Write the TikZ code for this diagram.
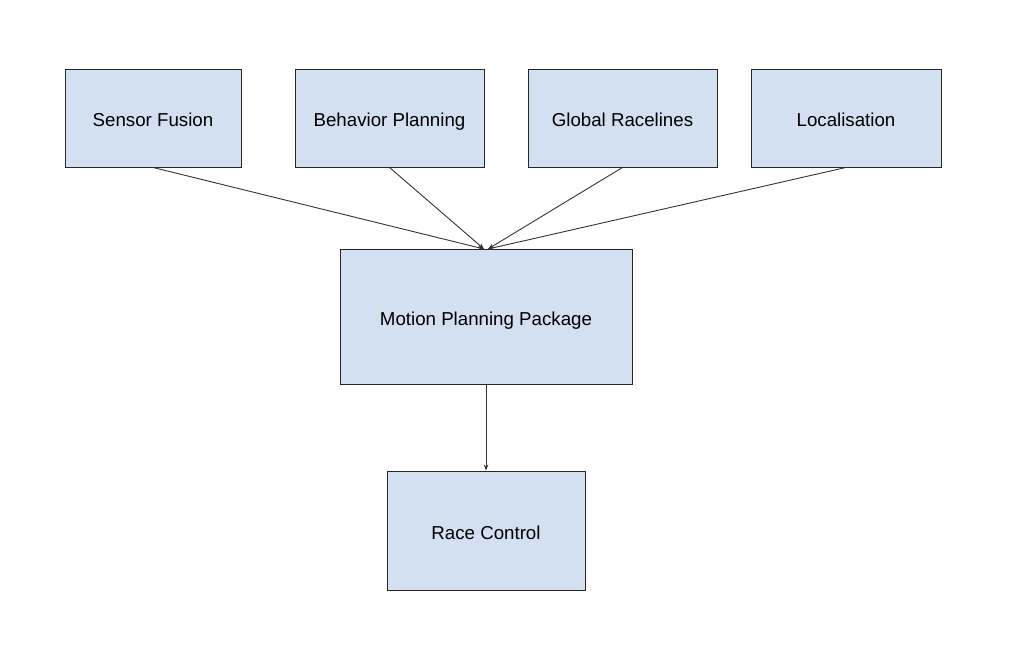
\documentclass[tikz,border=0pt]{standalone}
\usepackage{fontspec}
\setmainfont{Liberation Sans}
\usetikzlibrary{arrows.meta}
\definecolor{boxfill}{HTML}{D3E0F1}
\definecolor{linegray}{HTML}{333333}
\begin{document}
\begin{tikzpicture}[x=1pt,y=-1pt,
  blk/.style={draw=black!85,fill=boxfill,line width=0.9pt,inner sep=0pt,text height=17.4pt,text depth=0pt,font=\fontsize{18.7}{22}\selectfont},
  conn/.style={draw=linegray,line width=0.9pt,-{Stealth[length=6pt,width=4.5pt]}}]
\useasboundingbox (0,0) rectangle (1010,654);
\node[blk,minimum width=176pt,minimum height=98pt] (sf) at (153,118) {Sensor Fusion};
\node[blk,minimum width=189pt,minimum height=98pt] (bp) at (389.5,118) {Behavior Planning};
\node[blk,minimum width=189pt,minimum height=98pt] (gr) at (622.5,118) {Global Racelines};
\node[blk,minimum width=190pt,minimum height=98pt] (lo) at (846,118) {Localisation};
\node[blk,minimum width=292pt,minimum height=135pt] (mp) at (486,316.5) {Motion Planning Package};
\node[blk,minimum width=198pt,minimum height=119pt] (rc) at (486,530.5) {Race Control};
\coordinate (inL) at (484,249);
\coordinate (inR) at (488,249);
\draw[conn] (sf.south) -- (inL);
\draw[conn] (bp.south) -- (inL);
\draw[conn] (gr.south) -- (inR);
\draw[conn] (lo.south) -- (inR);
\draw[conn] (mp.south) -- (rc.north);
\end{tikzpicture}
\end{document}
